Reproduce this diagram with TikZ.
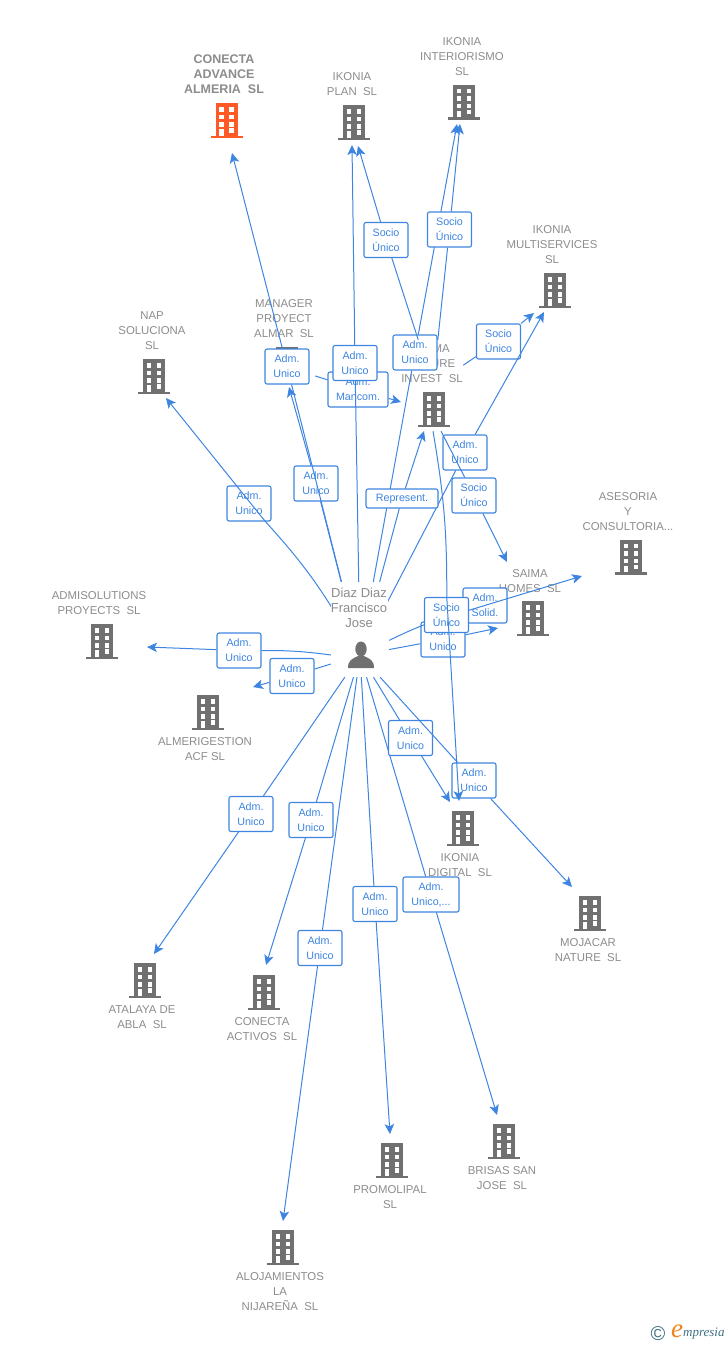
\documentclass[tikz,border=0pt]{standalone}
\usepackage{fontspec}
\setmainfont{Liberation Sans}
\newfontfamily\logofont{Liberation Serif}
\usepackage{tikz}
\usetikzlibrary{arrows.meta}

\definecolor{linkblue}{RGB}{61,133,224}
\definecolor{namegray}{RGB}{140,140,140}
\definecolor{icongray}{RGB}{112,112,112}
\definecolor{iconorange}{RGB}{255,90,38}
\definecolor{logoteal}{RGB}{62,112,130}
\definecolor{logoorange}{RGB}{240,130,30}

\tikzset{
  firm/.style={text=namegray,font=\fontsize{11.4}{15}\selectfont,align=center,inner sep=0pt,yshift=-1pt},
  rel/.style={draw=linkblue,line width=1.1pt,fill=white,rounded corners=2pt,text=linkblue,
    font=\fontsize{10.7}{15}\selectfont,align=center,inner sep=0pt,minimum width=44pt,minimum height=35pt},
  link/.style={draw=linkblue,line width=1pt,-{Stealth[length=10pt,width=9.5pt,inset=2.5pt]}},
  hub/.style={inner sep=0pt},
  pics/bldg/.style={code={
    \fill[#1] (-11,17) rectangle (11,-16);
    \fill[#1] (-16,-15.5) rectangle (16,-18);
    \fill[white] (-7.3,12.7) rectangle (-3,8.3);
    \fill[white] (2.7,12.7) rectangle (7,8.3);
    \fill[white] (-7.3,5.5) rectangle (-3,1);
    \fill[white] (2.7,5.5) rectangle (7,1);
    \fill[white] (-7.3,-2) rectangle (-3,-6.5);
    \fill[white] (2.7,-2) rectangle (7,-6.5);
    \fill[white] (-7.3,-9) rectangle (-3,-15.5);
    \fill[white] (2.7,-8) rectangle (7,-12.5);
  }}
}

\begin{document}
\begin{tikzpicture}[x=1pt,y=1pt,yscale=-1,xscale=1]
\useasboundingbox (0,0) rectangle (728,1345);

% Firm names
\node[firm,font=\fontsize{12.5}{15}\selectfont\bfseries] (nameadvance) at (224,73) {CONECTA\\ADVANCE\\ALMERIA\ \ SL};
\node[firm] (nameplan) at (352,83.5) {IKONIA\\PLAN\ \ SL};
\node[firm] (nameinter) at (462,56) {IKONIA\\INTERIORISMO\\SL};
\node[firm] (namemulti) at (552,244) {IKONIA\\MULTISERVICES\\SL};
\node[firm] (namenap) at (152,330) {NAP\\SOLUCIONA\\SL};
\node[firm] (namemanager) at (284,318) {MANAGER\\PROYECT\\ALMAR\ \ SL};
\node[firm] (namefuture) at (432,363) {SAIMA\\FUTURE\\INVEST\ \ SL};
\node[firm] (nameasesoria) at (628,511) {ASESORIA\\Y\\CONSULTORIA...};
\node[firm] (namehomes) at (530,580.5) {SAIMA\\HOMES\ \ SL};
\node[firm] (nameadmi) at (99,602.5) {ADMISOLUTIONS\\PROYECTS\ \ SL};
\node[firm] (namealmeri) at (205,748.5) {ALMERIGESTION\\ACF SL};
\node[firm] (namedigital) at (460,864.5) {IKONIA\\DIGITAL\ \ SL};
\node[firm] (namemojacar) at (588,949.5) {MOJACAR\\NATURE\ \ SL};
\node[firm] (nameatalaya) at (142,1016.5) {ATALAYA DE\\ABLA\ \ SL};
\node[firm] (nameactivos) at (262,1028.5) {CONECTA\\ACTIVOS\ \ SL};
\node[firm] (namepromo) at (390,1196.5) {PROMOLIPAL\\SL};
\node[firm] (namebrisas) at (502,1177.5) {BRISAS SAN\\JOSE\ \ SL};
\node[firm] (namealoja) at (280,1291) {ALOJAMIENTOS\\LA\\NIJAREÑA\ \ SL};

% Firm icons
\pic at (226.5,120) {bldg=iconorange};
\pic at (354,122) {bldg=icongray};
\pic at (464,101.5) {bldg=icongray};
\pic at (555,290) {bldg=icongray};
\pic at (154,376) {bldg=icongray};
\pic at (287,364) {bldg=icongray};
\pic at (434,409) {bldg=icongray};
\pic at (631,556.5) {bldg=icongray};
\pic at (533,618) {bldg=icongray};
\pic at (102,641) {bldg=icongray};
\pic at (208,712) {bldg=icongray};
\pic at (463,828) {bldg=icongray};
\pic at (590,913) {bldg=icongray};
\pic at (145,980) {bldg=icongray};
\pic at (264,992) {bldg=icongray};
\pic at (392,1160) {bldg=icongray};
\pic at (504,1141) {bldg=icongray};
\pic at (283,1247) {bldg=icongray};

% Person and the two firms that links leave from
\node[hub,minimum width=58pt,minimum height=44pt] (person) at (360,655) {};
\node[hub,minimum width=60pt,minimum height=91pt] (futurehub) at (433,385.5) {};
\node[hub,minimum width=56pt,minimum height=40pt] (managerhub) at (287,367) {};

% Arrow ends
\coordinate (tipadvance) at (232,153);
\coordinate (tipplanA) at (352,145);
\coordinate (tipplanB) at (358,146);
\coordinate (tipinterA) at (457,124);
\coordinate (tipinterB) at (460,124);
\coordinate (tipmultiA) at (544,312);
\coordinate (tipmultiB) at (534,313);
\coordinate (tipnap) at (166,398);
\coordinate (tipmanager) at (289,387);
\coordinate (tipfutureA) at (401,402);
\coordinate (tipfutureB) at (424,431);
\coordinate (tipasesoria) at (582,576);
\coordinate (tiphomesA) at (507,562);
\coordinate (tiphomesB) at (498,628);
\coordinate (tipadmi) at (147,647);
\coordinate (tipalmeri) at (253,687);
\coordinate (tipdigitalA) at (450,802);
\coordinate (tipdigitalB) at (459,801);
\coordinate (tipmojacar) at (572,887);
\coordinate (tipatalaya) at (154,954);
\coordinate (tipactivos) at (266,965);
\coordinate (tippromo) at (390,1134);
\coordinate (tipbrisas) at (497,1115);
\coordinate (tipaloja) at (283,1221);

% Links, each with its box
\node[rel] (relnap) at (249,503.5) {Adm.~\\Unico};
\draw[link] (person) to[bend left=6] (relnap) -- (tipnap);
\node[rel] (relmanager) at (316,483.5) {Adm.~\\Unico};
\draw[link] (person) -- (relmanager) -- (tipmanager);
\node[rel,minimum width=60pt] (relmancom) at (358,389.5) {Adm.\\Mancom.};
\draw[link] (managerhub) -- (relmancom) -- (tipfutureA);
\node[rel] (reladvance) at (287,366.5) {Adm.~\\Unico};
\draw[link] (person) -- (reladvance) -- (tipadvance);
\node[rel] (relplanA) at (355,363) {Adm.~\\Unico};
\draw[link] (person) -- (relplanA) -- (tipplanA);
\node[rel] (relinterA) at (415,352.5) {Adm.~\\Unico};
\draw[link] (person) -- (relinterA) -- (tipinterA);
\node[rel] (relplanB) at (386,240) {Socio\\Único};
\draw[link] (futurehub) -- (relplanB) -- (tipplanB);
\node[rel] (relinterB) at (449.5,229.5) {Socio\\Único};
\draw[link] (futurehub) -- (relinterB) -- (tipinterB);
\node[rel] (relmultiB) at (498.5,341.5) {Socio\\Único};
\draw[link] (futurehub) -- (relmultiB) -- (tipmultiB);
\node[rel] (relmultiA) at (465,452.5) {Adm.~\\Unico};
\draw[link] (person) -- (relmultiA) -- (tipmultiA);
\node[rel,minimum width=72pt,minimum height=19pt] (relrepresent) at (402,498.5) {Represent.};
\draw[link] (person) -- (relrepresent) -- (tipfutureB);
\node[rel] (relhomesA) at (474,495.5) {Socio\\Único};
\draw[link] (futurehub.-80) -- (relhomesA) -- (tiphomesA);
\node[rel] (relhomesB) at (443,639.5) {Adm.~\\Unico};
\draw[link] (person) -- (relhomesB) -- (tiphomesB);
\node[rel] (relasesoria) at (485,605.5) {Adm.~\\Solid.};
\draw[link] (person) to[bend right=5] (relasesoria) -- (tipasesoria);
\node[rel] (reladmi) at (239,650.5) {Adm.~\\Unico};
\draw[draw=linkblue,line width=1pt] (person.west) to[bend left=4] (reladmi.east);
\draw[link] (reladmi) -- (tipadmi);
\node[rel] (relalmeri) at (292,676) {Adm.~\\Unico};
\draw[link] (person) -- (relalmeri) -- (tipalmeri);
\node[rel] (relatalaya) at (251,814) {Adm.~\\Unico};
\draw[link] (person) -- (relatalaya) -- (tipatalaya);
\node[rel] (relactivos) at (311,820) {Adm.~\\Unico};
\draw[link] (person) -- (relactivos) -- (tipactivos);
\node[rel] (relaloja) at (320,948) {Adm.~\\Unico};
\draw[link] (person) -- (relaloja) -- (tipaloja);
\node[rel] (relpromo) at (375,904) {Adm.~\\Unico};
\draw[link] (person) -- (relpromo) -- (tippromo);
\node[rel,minimum width=56pt] (relbrisas) at (431,894.5) {Adm.\\Unico,...};
\draw[link] (person) -- (relbrisas) -- (tipbrisas);
\node[rel] (reldigitalA) at (410.5,738) {Adm.~\\Unico};
\draw[link] (person) -- (reldigitalA) -- (tipdigitalA);
\node[rel] (relmojacar) at (474,780.5) {Adm.~\\Unico};
\draw[link] (person) -- (relmojacar) -- (tipmojacar);
\node[rel] (reldigitalB) at (446.5,615) {Socio\\Único};
\draw[link] (futurehub.south) to[bend right=5] (reldigitalB) -- (tipdigitalB);

% Person icon and name, over the ends of the links
\fill[icongray] (361,649) ellipse (5.7 and 7.5);
\fill[icongray] (348,668) .. controls (348,660) and (352,659) .. (358,656) -- (364,656) .. controls (370,659) and (374,660) .. (374,668) -- cycle;
\node[firm,fill=white,font=\fontsize{13}{15}\selectfont,minimum width=57pt,minimum height=52pt] (personname) at (359,606.5) {Diaz Diaz\\Francisco\\Jose};

% Logo
\node[text=logoteal,font=\fontsize{20}{20}\selectfont,inner sep=0pt] (logoc) at (658,1334) {\textcopyright};
\node[text=logoorange,font=\logofont\itshape\fontsize{27}{27}\selectfont,inner sep=0pt] (logoe) at (677,1331) {e};
\node[text=logoteal,font=\logofont\itshape\fontsize{13}{13}\selectfont,inner sep=0pt,anchor=west] (logotext) at (683,1334) {mpresia};
\end{tikzpicture}
\end{document}
